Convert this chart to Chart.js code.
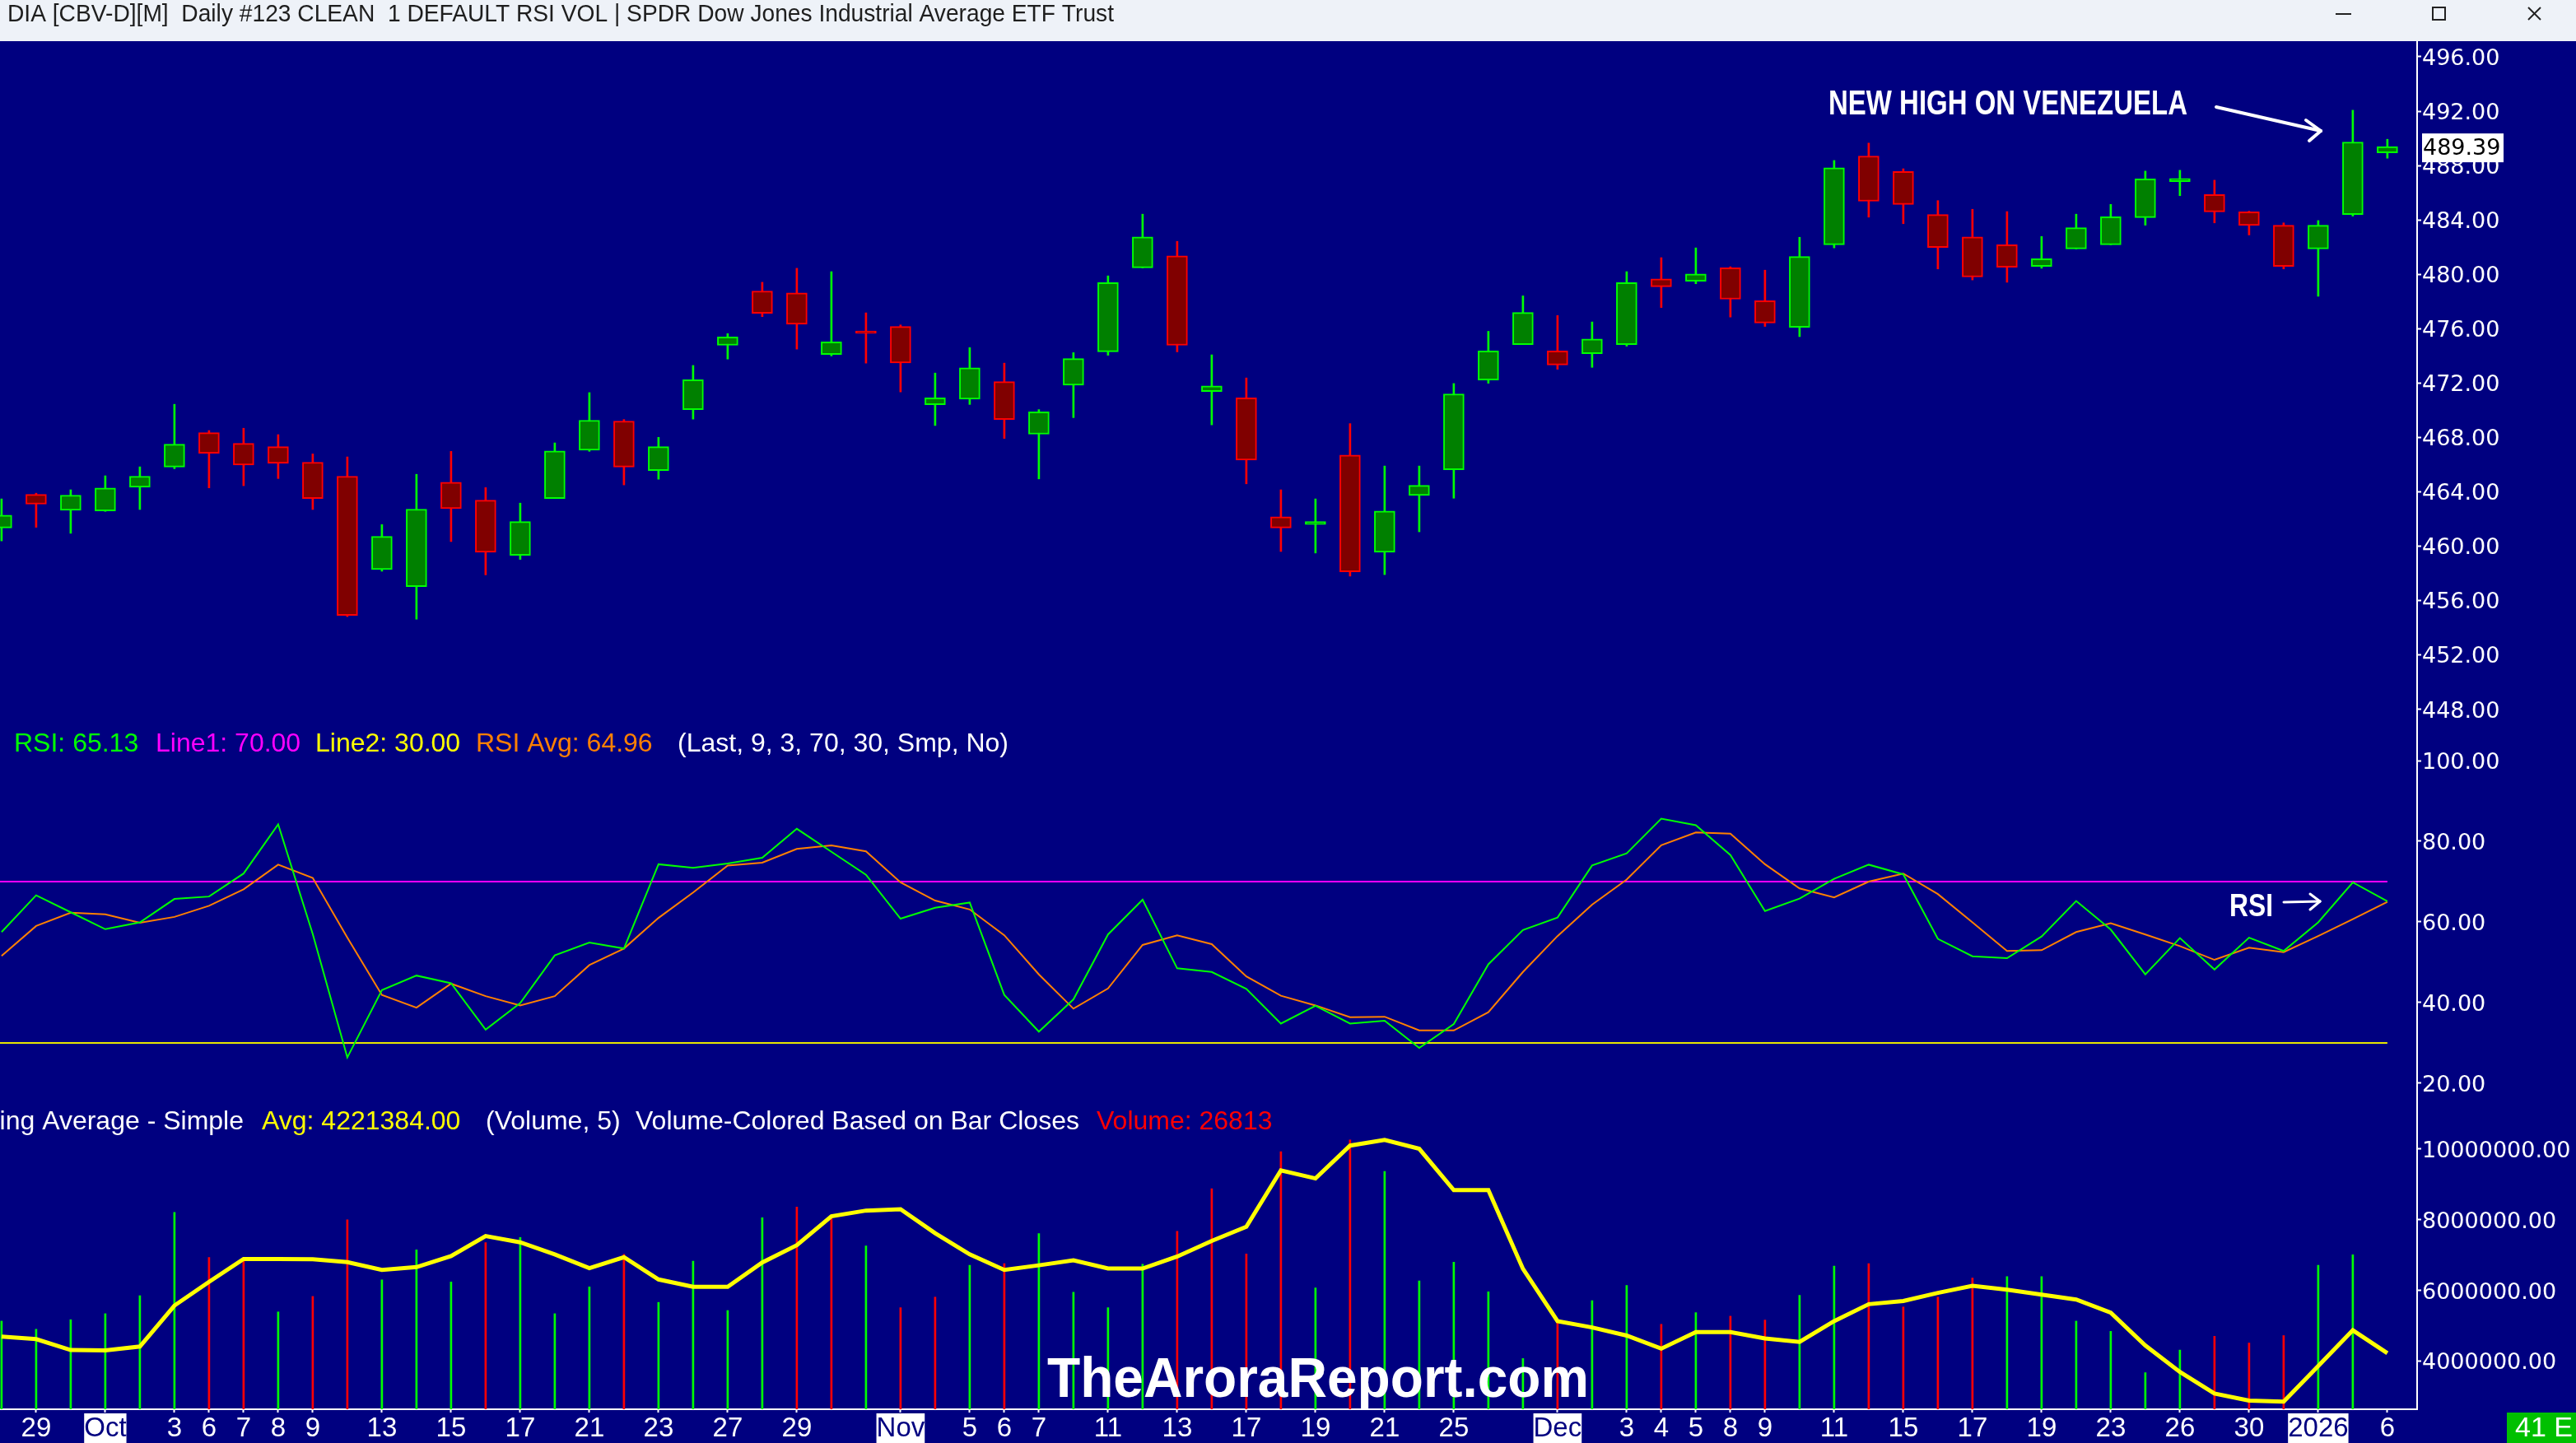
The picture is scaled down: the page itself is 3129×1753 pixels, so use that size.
<!DOCTYPE html>
<html lang="en">
<head>
<meta charset="UTF-8">
<title>DIA Daily - RSI - Volume</title>
<script src="https://cdn.jsdelivr.net/npm/chart.js"></script>
<style>
  body { margin:0; width:3129px; height:1753px; background:#000080; overflow:hidden; position:relative; }
  canvas { position:absolute; left:0; }
</style>
</head>
<body>
<canvas id="priceChart" width="3129" height="830" style="top:50px"></canvas>
<canvas id="rsiChart" width="3129" height="460" style="top:880px"></canvas>
<canvas id="volChart" width="3129" height="413" style="top:1340px"></canvas>
<canvas id="overlay" width="3129" height="1753" style="top:0;pointer-events:none"></canvas>
<script>
// ---- data ----
const dates = ['2025-09-26','2025-09-29','2025-09-30','2025-10-01','2025-10-02','2025-10-03','2025-10-06','2025-10-07','2025-10-08','2025-10-09',
  '2025-10-10','2025-10-13','2025-10-14','2025-10-15','2025-10-16','2025-10-17','2025-10-20','2025-10-21','2025-10-22','2025-10-23',
  '2025-10-24','2025-10-27','2025-10-28','2025-10-29','2025-10-30','2025-10-31','2025-11-03','2025-11-04','2025-11-05','2025-11-06',
  '2025-11-07','2025-11-10','2025-11-11','2025-11-12','2025-11-13','2025-11-14','2025-11-17','2025-11-18','2025-11-19','2025-11-20',
  '2025-11-21','2025-11-24','2025-11-25','2025-11-26','2025-11-28','2025-12-01','2025-12-02','2025-12-03','2025-12-04','2025-12-05',
  '2025-12-08','2025-12-09','2025-12-10','2025-12-11','2025-12-12','2025-12-15','2025-12-16','2025-12-17','2025-12-18','2025-12-19',
  '2025-12-22','2025-12-23','2025-12-24','2025-12-26','2025-12-29','2025-12-30','2025-12-31','2026-01-02','2026-01-05','2026-01-06'];

const open = [461.33,463.80,462.63,462.58,464.33,465.81,468.34,467.56,467.31,466.17,
  465.14,458.27,457.01,464.69,463.38,459.32,463.50,467.06,469.20,465.56,
  470.04,474.77,478.77,478.63,474.10,475.82,476.16,470.40,470.81,472.10,
  468.23,471.84,474.29,480.47,481.36,471.37,470.90,462.16,461.58,466.70,
  459.55,463.72,465.61,472.21,474.82,474.35,474.15,474.82,479.66,479.49,
  480.47,478.05,476.10,482.17,488.70,487.56,484.39,482.75,482.17,480.58,
  481.86,482.17,484.17,486.81,485.87,484.59,483.61,481.86,484.39,488.93];
const high = [463.47,463.89,464.14,465.17,465.83,470.43,468.50,468.67,468.20,466.78,
  466.56,461.58,465.28,466.97,464.30,463.16,467.59,471.29,469.31,468.00,
  473.29,475.63,479.41,480.44,480.19,477.16,476.27,472.73,474.60,473.46,
  470.04,474.23,479.88,484.42,482.42,474.07,472.37,464.14,463.47,469.01,
  465.89,465.89,471.96,475.80,478.41,476.96,476.49,480.19,481.22,481.94,
  480.55,480.30,482.72,488.37,489.65,487.76,485.42,484.78,484.61,482.78,
  484.42,485.14,487.59,487.65,486.92,484.64,483.78,483.95,492.07,489.93];
const low = [460.38,461.38,460.94,462.55,462.69,465.69,464.28,464.44,464.97,462.69,
  454.81,458.15,454.62,460.33,457.88,459.02,463.50,466.97,464.50,464.92,
  469.34,473.76,476.88,474.49,473.99,473.46,471.34,468.87,470.42,467.92,
  464.94,469.45,474.04,480.47,474.29,468.92,464.58,459.60,459.49,457.79,
  457.90,461.05,463.52,471.98,474.82,473.01,473.15,474.71,477.55,479.30,
  476.85,476.16,475.41,481.94,484.20,483.72,480.39,479.58,479.41,480.44,
  481.86,482.17,483.61,485.78,483.78,482.89,480.39,478.38,484.28,488.54];
const close = [462.27,463.08,463.75,464.28,465.14,467.50,466.83,465.97,466.09,463.50,
  454.90,460.71,462.72,462.76,459.55,461.80,467.00,469.26,465.81,467.31,
  472.23,475.38,477.13,476.32,475.02,475.66,473.48,470.90,473.12,469.31,
  469.87,473.79,479.38,482.75,474.77,471.79,466.33,461.33,461.80,458.10,
  462.58,464.47,471.20,474.35,477.19,473.32,475.24,479.38,479.08,480.02,
  478.16,476.41,481.30,487.84,485.37,485.14,481.97,479.80,480.52,481.14,
  483.42,484.23,487.01,487.05,484.59,483.59,480.58,483.61,489.73,489.39];

const rsi = [57.5,66.6,62.4,58.2,59.9,65.7,66.3,72.0,84.2,57.0,
  26.4,43.1,46.7,44.8,33.3,39.9,51.7,54.9,53.4,74.3,
  73.4,74.5,75.9,83.1,77.4,71.7,60.8,63.5,64.8,41.9,
  32.8,40.8,56.9,65.5,48.5,47.6,43.4,34.8,39.2,34.8,
  35.5,28.75,34.7,49.5,58.0,61.1,74.0,77.0,85.6,84.0,
  76.6,62.7,65.8,70.7,74.2,71.8,55.8,51.5,51.0,56.4,
  65.2,58.1,47.0,56.0,48.2,56.1,52.8,59.9,69.8,65.13];
const rsiAvg = [51.6,59.0,62.3,61.9,59.8,61.25,64.0,68.1,74.2,70.9,
  56.1,41.9,38.75,44.7,41.6,39.3,41.6,49.3,53.4,61.0,
  67.3,74.0,74.7,78.1,79.0,77.5,69.8,65.3,63.1,56.7,
  47.0,38.5,43.5,54.3,56.7,54.5,46.5,41.7,39.3,36.4,
  36.5,33.1,33.1,37.6,47.6,56.5,64.3,70.5,79.0,82.2,
  81.9,74.3,68.3,66.1,70.0,72.0,66.9,59.9,52.8,53.0,
  57.5,59.7,56.9,54.0,50.6,53.6,52.5,56.5,60.7,64.96];
const rsiLine1 = 70, rsiLine2 = 30;

const volume = [5130000,4900000,5170000,5340000,5850000,8210000,6930000,6890000,5390000,5830000,
  8000000,6300000,7150000,6240000,7350000,7500000,5340000,6100000,7020000,5660000,
  6830000,5430000,8060000,8360000,8050000,7260000,5510000,5810000,6710000,6760000,
  7610000,5950000,5510000,6740000,7670000,8880000,7030000,9930000,6070000,10260000,
  9370000,6270000,6800000,5960000,4070000,5160000,5710000,6140000,5040000,5370000,
  5270000,5160000,5860000,6690000,6760000,5530000,5810000,6350000,6390000,6390000,
  5130000,4840000,3670000,4310000,4700000,4510000,4720000,6710000,7010000,26813];
const volAvg = [4690000,4620000,4310000,4300000,4410000,5570000,6240000,6890000,6890000,6880000,
  6800000,6580000,6660000,6970000,7540000,7360000,7020000,6630000,6940000,6310000,
  6100000,6100000,6790000,7280000,8100000,8260000,8300000,7620000,7020000,6580000,
  6710000,6850000,6620000,6620000,6960000,7400000,7800000,9400000,9170000,10100000,
  10260000,10010000,8840000,8840000,6610000,5130000,4950000,4720000,4350000,4820000,
  4820000,4640000,4540000,5130000,5610000,5700000,5930000,6130000,6020000,5880000,
  5740000,5370000,4440000,3690000,3080000,2880000,2850000,3860000,4870000,4221384];

// axis labels
const axisDates = ['2025-09-29','2025-10-01','2025-10-03','2025-10-06','2025-10-07','2025-10-08','2025-10-09','2025-10-13','2025-10-15','2025-10-17',
  '2025-10-21','2025-10-23','2025-10-27','2025-10-29','2025-11-03','2025-11-05','2025-11-06','2025-11-07','2025-11-11','2025-11-13',
  '2025-11-17','2025-11-19','2025-11-21','2025-11-25','2025-12-01','2025-12-03','2025-12-04','2025-12-05','2025-12-08','2025-12-09',
  '2025-12-11','2025-12-15','2025-12-17','2025-12-19','2025-12-23','2025-12-26','2025-12-30','2026-01-02','2026-01-06'];
const axisText = ['29','Oct','3','6','7','8','9','13','15','17',
  '21','23','27','29','Nov','5','6','7','11','13',
  '17','19','21','25','Dec','3','4','5','8','9',
  '11','15','17','19','23','26','30','2026','6'];
const monthText = ['Oct','Nov','Dec','2026'];
const priceTicks = [448,452,456,460,464,468,472,476,480,484,488,492,496];
const rsiTicks = [20,40,60,80,100];
const volTicks = [4000000,6000000,8000000,10000000];

// ---- build ----
const GREEN = '#00ff00', RED = '#ff0000';
const last = dates.length - 1;
const isUp = close.map((c, i) => c >= open[i]);
const volUp = close.map((c, i) => i === 0 || c >= close[i - 1]);

const xMin = -0.045, xMax = 69.86;
const axisFont = { family: '"DejaVu Sans", sans-serif', size: 27 };

function xAxis() {
  return { type: 'linear', min: xMin, max: xMax, offset: false, display: false, grid: { offset: false } };
}
function yAxis(min, max, tickList) {
  return {
    position: 'right', min: min, max: max,
    afterBuildTicks: s => { s.ticks = tickList.map(v => ({ value: v })); },
    afterFit: s => { s.width = 193; s.paddingTop = 0; s.paddingBottom = 0; },
    grid: { drawOnChartArea: false, tickLength: 5, tickColor: '#ffffff', tickWidth: 2 },
    border: { color: '#ffffff', width: 2 },
    ticks: { color: '#ffffff', padding: 1, labelOffset: 3, autoSkip: false, font: axisFont, callback: v => Number(v).toFixed(2) }
  };
}
const baseOpts = {
  responsive: false, maintainAspectRatio: false, animation: false,
  layout: { padding: 0 },
  plugins: { legend: { display: false }, tooltip: { enabled: false } }
};

// candles: wick + body as floating bars
const priceChart = new Chart(document.getElementById('priceChart'), {
  type: 'bar',
  data: {
    datasets: [
      {
        data: dates.map((d, i) => ({ x: i, y: [open[i], close[i]] })),
        backgroundColor: isUp.map(u => u ? '#008000' : '#800000'),
        borderColor: isUp.map(u => u ? GREEN : RED),
        borderWidth: 2, borderSkipped: false, barThickness: 25, grouped: false, order: 0
      },
      {
        data: dates.map((d, i) => ({ x: i, y: [low[i], high[i]] })),
        backgroundColor: isUp.map(u => u ? GREEN : RED),
        borderWidth: 0, barThickness: 2, grouped: false, order: 1
      }
    ]
  },
  options: Object.assign({}, baseOpts, {
    scales: { x: xAxis(), y: yAxis(446.88, 497.15, priceTicks) }
  })
});

const rsiChart = new Chart(document.getElementById('rsiChart'), {
  type: 'line',
  data: {
    datasets: [
      { data: dates.map((d, i) => ({ x: i, y: rsi[i] })), borderColor: GREEN, borderWidth: 2, pointRadius: 0, tension: 0 },
      { data: dates.map((d, i) => ({ x: i, y: rsiAvg[i] })), borderColor: '#ff8000', borderWidth: 2, pointRadius: 0, tension: 0 },
      { data: [{ x: xMin, y: rsiLine1 }, { x: last, y: rsiLine1 }], borderColor: '#ff00ff', borderWidth: 2, pointRadius: 0 },
      { data: [{ x: xMin, y: rsiLine2 }, { x: last, y: rsiLine2 }], borderColor: '#e8e800', borderWidth: 2, pointRadius: 0 }
    ]
  },
  options: Object.assign({}, baseOpts, {
    scales: { x: xAxis(), y: yAxis(15.1, 108.98, rsiTicks) }
  })
});

function isMonth(c) { return c.tick && monthText.includes(c.tick.label); }

const volChart = new Chart(document.getElementById('volChart'), {
  type: 'bar',
  data: {
    datasets: [
      {
        type: 'line', data: dates.map((d, i) => ({ x: i, y: volAvg[i] })),
        borderColor: '#ffff00', borderWidth: 5, pointRadius: 0, tension: 0, order: 0
      },
      {
        type: 'bar', data: dates.map((d, i) => ({ x: i, y: volume[i] })),
        backgroundColor: volUp.map(u => u ? GREEN : RED),
        barThickness: 2, grouped: false, clip: 0, order: 1
      }
    ]
  },
  options: Object.assign({}, baseOpts, {
    scales: {
      x: {
        type: 'linear', min: xMin, max: xMax, offset: false,
        afterBuildTicks: s => { s.ticks = axisDates.map(d => ({ value: dates.indexOf(d) })); },
        afterFit: s => { s.height = 41; s.paddingLeft = 0; s.paddingRight = 0; },
        grid: { offset: false, drawOnChartArea: false, tickLength: 4, tickColor: '#ffffff', tickWidth: 2 },
        border: { color: '#ffffff', width: 2 },
        ticks: {
          autoSkip: false, maxRotation: 0, padding: 1,
          font: { family: '"Liberation Sans", Arial, sans-serif', size: 33, lineHeight: 1.12 },
          callback: v => axisText[axisDates.indexOf(dates[v])],
          color: c => isMonth(c) ? '#000080' : '#ffffff',
          showLabelBackdrop: true,
          backdropColor: c => isMonth(c) ? '#ffffff' : 'rgba(0,0,0,0)',
          backdropPadding: 0
        }
      },
      y: yAxis(2634000, 11305000, volTicks)
    }
  })
});

// ---- texts on top ----
const ov = document.getElementById('overlay').getContext('2d');

function fitText(text, x, y, font, color, w, align) {
  ov.save();
  ov.font = font;
  const m = ov.measureText(text).width;
  ov.translate(x, y);
  ov.scale(w / m, 1);
  ov.fillStyle = color;
  ov.textAlign = align || 'left';
  ov.fillText(text, 0, 0);
  ov.restore();
}
function put(text, x, y, color, font, align) {
  ov.font = font || '32px "Liberation Sans", Arial, sans-serif';
  ov.fillStyle = color;
  ov.textAlign = align || 'left';
  ov.textBaseline = 'middle';
  ov.fillText(text, x, y);
}
function seg(x1, y1, x2, y2) { ov.beginPath(); ov.moveTo(x1, y1); ov.lineTo(x2, y2); ov.stroke(); }

// window title bar
ov.fillStyle = '#eef2f8';
ov.fillRect(0, 0, 3129, 50);
ov.textBaseline = 'alphabetic';
fitText('DIA [CBV-D][M]  Daily #123 CLEAN  1 DEFAULT RSI VOL | SPDR Dow Jones Industrial Average ETF Trust',
  9, 26, '29px "Liberation Sans", Arial, sans-serif', '#1e1e1e', 1344);
ov.strokeStyle = '#222'; ov.lineWidth = 2;
seg(2837, 17, 2856, 17);
ov.strokeRect(2955, 9, 15, 15);
seg(3071, 9, 3086, 24); seg(3086, 9, 3071, 24);

// RSI legend
put('RSI: ' + rsi[last].toFixed(2), 17, 904, GREEN);
put('Line1: ' + rsiLine1.toFixed(2), 189, 904, '#ff00ff');
put('Line2: ' + rsiLine2.toFixed(2), 383, 904, '#ffff00');
put('RSI Avg: ' + rsiAvg[last].toFixed(2), 578, 904, '#ff8000');
put('(Last, 9, 3, 70, 30, Smp, No)', 823, 904, '#ffffff');

// volume legend (title starts off the left edge like the original)
put('Moving Average - Simple', 296, 1363, '#ffffff', null, 'right');
put('Avg: ' + volAvg[last].toFixed(2), 318, 1363, '#ffff00');
put('(Volume, 5)', 590, 1363, '#ffffff');
put('Volume-Colored Based on Bar Closes', 772, 1363, '#ffffff');
put('Volume: ' + volume[last], 1332, 1363, RED);

// last price box on the price axis
const py = 50 + priceChart.scales.y.getPixelForValue(close[last]);
ov.fillStyle = '#ffffff';
ov.fillRect(2942, py - 16, 99, 35);
put(close[last].toFixed(2), 2943, py + 3, '#000000', '27px "DejaVu Sans", sans-serif');

// annotations
ov.textBaseline = 'alphabetic';
fitText('NEW HIGH ON VENEZUELA', 2221, 139, 'bold 43px "Liberation Sans", Arial, sans-serif', '#ffffff', 436);
ov.strokeStyle = '#ffffff'; ov.lineWidth = 4; ov.lineCap = 'round';
seg(2692, 130, 2819, 159); seg(2819, 159, 2801, 146); seg(2819, 159, 2805, 171);

fitText('RSI', 2708, 1113, 'bold 39px "Liberation Sans", Arial, sans-serif', '#ffffff', 53);
ov.lineWidth = 3;
seg(2774, 1096, 2818, 1095); seg(2818, 1095, 2806, 1086); seg(2818, 1095, 2806, 1105);

fitText('TheAroraReport.com', 1272, 1697, 'bold 68px "Liberation Sans", Arial, sans-serif', '#ffffff', 658);

// status box bottom right
ov.fillStyle = '#00c000';
ov.fillRect(3045, 1716, 84, 37);
put('41 E', 3055, 1736, '#ffffff', '34px "Liberation Sans", Arial, sans-serif');
</script>
</body>
</html>
